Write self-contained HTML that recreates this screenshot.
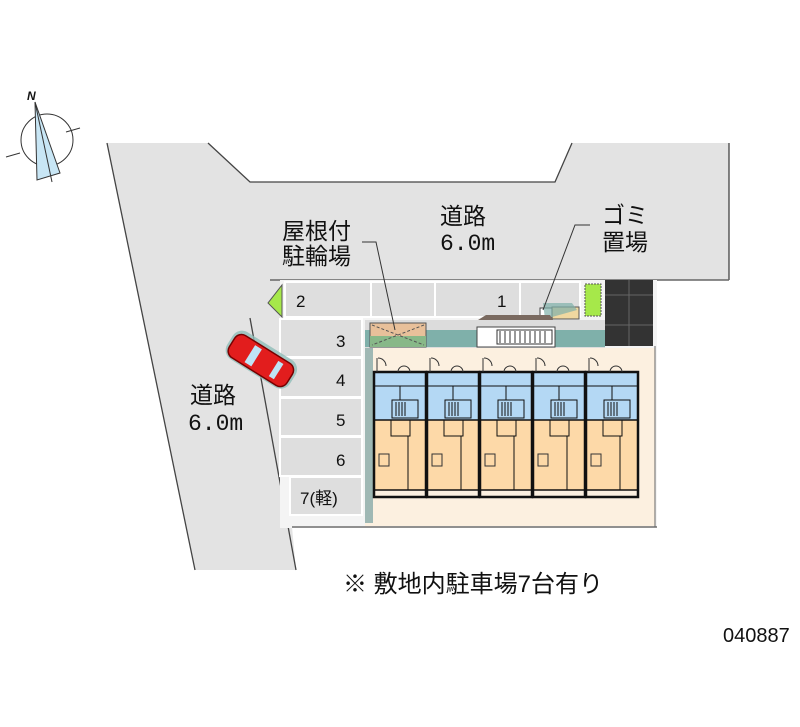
<!DOCTYPE html>
<html><head><meta charset="utf-8"><style>
body{margin:0;background:#fff}
svg{display:block}
text{font-family:"Liberation Sans","Noto Sans CJK JP",sans-serif;fill:#111}
.m{font-family:"Liberation Mono","Noto Sans CJK JP",monospace}
</style></head><body>
<svg width="800" height="727" viewBox="0 0 800 727" xmlns="http://www.w3.org/2000/svg">
<!-- roads -->
<path d="M107,143 L208,143 L250,182 L555,182 L572,143 L729,143 L729,280 L280,280 L280,527 L292,527 L296,570 L195,570 Z" fill="#e3e3e3"/>
<path d="M107,143 L195,570 M208,143 L250,182 L555,182 L572,143 M729,143 L729,280 M250,318 L296,570" stroke="#444" stroke-width="1.3" fill="none"/>
<line x1="270" y1="280" x2="729" y2="280" stroke="#666" stroke-width="1.5"/>
<!-- site -->
<rect x="280" y="280" width="377" height="248" fill="#f4f4f4"/>
<line x1="292" y1="527" x2="657" y2="527" stroke="#555" stroke-width="1.3"/>
<!-- slots -->
<g fill="#dedede" stroke="#fff" stroke-width="2">
<rect x="285" y="282" width="86" height="35"/>
<rect x="371" y="282" width="64" height="35"/>
<rect x="435" y="282" width="85" height="35"/>
<rect x="520" y="282" width="60" height="35"/>
<rect x="280" y="319" width="82" height="38"/>
<rect x="280" y="358" width="82" height="39"/>
<rect x="280" y="398" width="82" height="38"/>
<rect x="280" y="437" width="82" height="39"/>
<rect x="290" y="477" width="72" height="38"/>
</g>
<path d="M282,285 L282,317 L268,303 Z" fill="#a6e84a" stroke="#555" stroke-width="1"/>
<rect x="585" y="284" width="16" height="32" fill="#a6e84a" stroke="#555" stroke-dasharray="2,1"/>
<rect x="605" y="280" width="48" height="66" fill="#333"/>
<g stroke="#666"><line x1="605" y1="295" x2="653" y2="295"/><line x1="605" y1="325" x2="653" y2="325"/><line x1="629" y1="280" x2="629" y2="346"/></g>
<rect x="552" y="307" width="27" height="12" fill="#f0d8a0" stroke="#555"/>
<rect x="540" y="308" width="12" height="10" fill="#fff" stroke="#444"/>
<path d="M543,303 L572,303 L577,310 L545,319 Z" fill="#7fb0aa" opacity="0.7"/>
<path d="M478,320 L486,315 L550,315 L553,320 Z" fill="#7a6a60"/>
<rect x="478" y="320" width="75" height="8" fill="#7fb0aa"/>
<!-- building base -->
<rect x="365" y="320" width="240" height="28" fill="#dcdcdc"/>
<rect x="365" y="330" width="240" height="17" fill="#7fb0aa"/>
<rect x="370" y="323" width="56" height="24" fill="#e8c09a" stroke="#555"/>
<rect x="370" y="336" width="56" height="11" fill="#88b888"/>
<path d="M372,325 L424,345 M424,325 L372,345" stroke="#555" stroke-dasharray="3,2"/>
<rect x="477" y="327" width="78" height="20" fill="#fff" stroke="#444"/>
<rect x="497" y="330" width="55" height="14" fill="#fff" stroke="#333"/>
<g stroke="#333"><line x1="500" y1="331" x2="500" y2="343"/><line x1="505" y1="331" x2="505" y2="343"/><line x1="510" y1="331" x2="510" y2="343"/><line x1="515" y1="331" x2="515" y2="343"/><line x1="520" y1="331" x2="520" y2="343"/><line x1="525" y1="331" x2="525" y2="343"/><line x1="530" y1="331" x2="530" y2="343"/><line x1="535" y1="331" x2="535" y2="343"/><line x1="540" y1="331" x2="540" y2="343"/><line x1="545" y1="331" x2="545" y2="343"/></g>
<rect x="365" y="348" width="290" height="178" fill="#fcf0e0"/>
<rect x="365" y="348" width="8" height="175" fill="#9fb8b4"/>
<line x1="655" y1="346" x2="655" y2="527" stroke="#666"/>
<!-- units -->
<g id="u">
<rect x="374" y="372" width="52" height="48" fill="#b4d8f4"/>
<rect x="374" y="420" width="52" height="70" fill="#fdd9a8"/>
<rect x="374" y="372" width="52" height="125" fill="none" stroke="#111" stroke-width="2.5"/>
<line x1="374" y1="420" x2="426" y2="420" stroke="#111" stroke-width="1.5"/>
<line x1="374" y1="490" x2="426" y2="490" stroke="#111" stroke-width="1.5"/>
<path d="M391,420 L391,436 L410,436 L410,420 M408,436 L408,490 M392,400 L418,400 L418,418 L392,418 Z M374,386 L400,386 L400,400 M400,386 L426,386" stroke="#111" fill="none"/>
<g stroke="#111"><line x1="396" y1="402" x2="396" y2="416"/><line x1="399" y1="402" x2="399" y2="416"/><line x1="402" y1="402" x2="402" y2="416"/><line x1="405" y1="402" x2="405" y2="416"/></g>
<rect x="379" y="454" width="10" height="12" fill="none" stroke="#333"/>
<path d="M377,358 L377,372 M378,358 A8,8 0 0 1 386,366 M398,372 A6,6 0 0 1 410,372" stroke="#333" fill="none"/>
</g>
<use href="#u" x="53"/><use href="#u" x="106"/><use href="#u" x="159"/><use href="#u" x="212"/>
<!-- car -->
<g transform="translate(260,360) rotate(32)">
<rect x="-36" y="-17" width="74" height="32" rx="11" fill="#8fbdb8" opacity="0.8"/>
<rect x="-33" y="-13" width="68" height="26" rx="8" fill="#e21d1d" stroke="#700" stroke-width="1.5"/>
<rect x="-12" y="-10" width="8" height="20" fill="#bfe3f5"/>
<rect x="16" y="-9" width="6" height="18" fill="#bfe3f5"/>
</g>
<!-- compass -->
<circle cx="47" cy="140" r="26" fill="none" stroke="#333"/>
<path d="M35,102 L37,180 L60,173 Z" fill="#c8e6f5" stroke="#333"/>
<line x1="35" y1="102" x2="52" y2="182" stroke="#333"/>
<g stroke="#333"><line x1="6" y1="157" x2="20" y2="153"/><line x1="66" y1="132" x2="80" y2="128"/></g>
<text x="27" y="100" font-size="12" font-style="italic" font-weight="bold">N</text>
<!-- leaders -->
<path d="M362,242 L376,242 L395,330" stroke="#333" fill="none"/>
<path d="M590,225 L575,225 L543,310" stroke="#333" fill="none"/>
<!-- labels -->
<g font-size="23">
<text x="282" y="239">屋根付</text>
<text x="282" y="264">駐輪場</text>
<text x="440" y="224">道路</text>
<text class="m" x="440" y="250">6.0m</text>
<text x="602" y="223">ゴミ</text>
<text x="602" y="250">置場</text>
<text x="190" y="403">道路</text>
<text class="m" x="188" y="430">6.0m</text>
<text x="343" y="592" font-size="24">※ 敷地内駐車場7台有り</text>
</g>
<g font-size="17">
<text x="296" y="307">2</text><text x="497" y="307">1</text>
<text x="336" y="347">3</text><text x="336" y="386">4</text><text x="336" y="426">5</text><text x="336" y="466">6</text>
<text x="300" y="504">7(軽)</text>
</g>
<text x="723" y="642" font-size="20">040887</text>
</svg>
</body></html>
